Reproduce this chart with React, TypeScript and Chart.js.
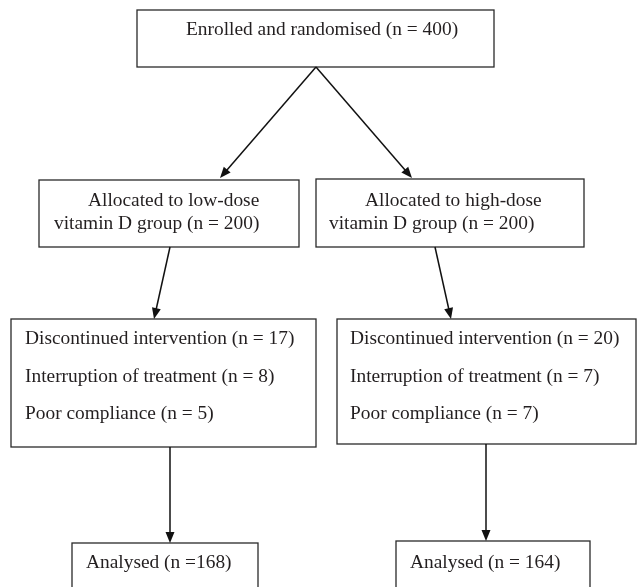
import React, { useEffect, useRef } from "react";
import { Chart, registerables } from "chart.js";

Chart.register(...registerables);

// ---- Content (text of each box) ----
const enrolledLines = ["Enrolled and randomised (n = 400)"];
const lowAllocLines = ["Allocated to low-dose", "vitamin D group (n = 200)"];
const highAllocLines = ["Allocated to high-dose", "vitamin D group (n = 200)"];
const lowDiscLines = [
  "Discontinued intervention (n = 17)",
  "Interruption of treatment (n = 8)",
  "Poor compliance (n = 5)",
];
const highDiscLines = [
  "Discontinued intervention (n = 20)",
  "Interruption of treatment (n = 7)",
  "Poor compliance (n = 7)",
];
const lowAnalysedLines = ["Analysed (n =168)"];
const highAnalysedLines = ["Analysed (n = 164)"];

// ---- Layout (scale units: x 0..637, y 0..587 top-down) ----
const W = 637;
const H = 587;
type Box = { x0: number; x1: number; y0: number; y1: number; lines: string[]; tx: number[]; ty: number[] };
const boxes: Box[] = [
  { x0: 137, x1: 494, y0: 10, y1: 67, lines: enrolledLines, tx: [186], ty: [35] },
  { x0: 39, x1: 299, y0: 180, y1: 247, lines: lowAllocLines, tx: [88, 54], ty: [206, 229] },
  { x0: 316, x1: 584, y0: 179, y1: 247, lines: highAllocLines, tx: [365, 329], ty: [206, 229] },
  { x0: 11, x1: 316, y0: 319, y1: 447, lines: lowDiscLines, tx: [25, 25, 25], ty: [344, 382, 419] },
  { x0: 337, x1: 636, y0: 319, y1: 444, lines: highDiscLines, tx: [350, 350, 350], ty: [344, 382, 419] },
  { x0: 72, x1: 258, y0: 543, y1: 610, lines: lowAnalysedLines, tx: [86], ty: [568] },
  { x0: 396, x1: 590, y0: 541, y1: 610, lines: highAnalysedLines, tx: [410], ty: [568] },
];
const arrows: [number, number, number, number][] = [
  [316, 67, 220, 178],
  [316, 67, 412, 178],
  [170, 247, 154, 319],
  [435, 247, 451, 319],
  [170, 447, 170, 543],
  [486, 444, 486, 541],
];

const INK = "#231f20";
const FONT = '19.4px "Liberation Serif", "Times New Roman", serif';

const flowPlugin = {
  id: "flow",
  afterDatasetsDraw(chart: any) {
    const { ctx } = chart;
    const sx = chart.scales.x;
    const sy = chart.scales.y;
    const px = (v: number) => sx.getPixelForValue(v);
    const py = (v: number) => sy.getPixelForValue(v);
    ctx.save();
    // boxes
    ctx.strokeStyle = "#2a2a2a";
    ctx.lineWidth = 1.3;
    ctx.fillStyle = INK;
    ctx.font = FONT;
    ctx.textBaseline = "alphabetic";
    ctx.textAlign = "left";
    for (const b of boxes) {
      const x0 = px(b.x0), x1 = px(b.x1), y0 = py(b.y0), y1 = py(b.y1);
      ctx.strokeRect(x0, y0, x1 - x0, y1 - y0);
      b.lines.forEach((t, i) => ctx.fillText(t, px(b.tx[i]), py(b.ty[i])));
    }
    // arrows
    ctx.strokeStyle = "#111";
    ctx.fillStyle = "#111";
    ctx.lineWidth = 1.5;
    for (const [ax, ay, bx, by] of arrows) {
      const x0 = px(ax), y0 = py(ay), x1 = px(bx), y1 = py(by);
      const ang = Math.atan2(y1 - y0, x1 - x0);
      const L = 11, hw = 4.5;
      const lx = x1 - Math.cos(ang) * L, ly = y1 - Math.sin(ang) * L;
      ctx.beginPath();
      ctx.moveTo(x0, y0);
      ctx.lineTo(lx + Math.cos(ang) * 2, ly + Math.sin(ang) * 2);
      ctx.stroke();
      ctx.beginPath();
      ctx.moveTo(x1, y1);
      ctx.lineTo(lx - Math.sin(ang) * hw, ly + Math.cos(ang) * hw);
      ctx.lineTo(lx + Math.sin(ang) * hw, ly - Math.cos(ang) * hw);
      ctx.closePath();
      ctx.fill();
    }
    ctx.restore();
  },
};

export default function App() {
  const ref = useRef<HTMLCanvasElement | null>(null);
  useEffect(() => {
    if (!ref.current) return;
    const chart = new Chart(ref.current, {
      type: "scatter",
      data: {
        datasets: [
          {
            data: boxes.map((b) => ({ x: (b.x0 + b.x1) / 2, y: (b.y0 + b.y1) / 2 })),
            pointRadius: 0,
            showLine: false,
          },
        ],
      },
      options: {
        responsive: false,
        animation: false,
        events: [],
        layout: { padding: 0 },
        scales: {
          x: { type: "linear", min: 0, max: W, display: false },
          y: { type: "linear", min: 0, max: H, reverse: true, display: false },
        },
        plugins: { legend: { display: false }, tooltip: { enabled: false } },
      },
      plugins: [flowPlugin],
    });
    return () => chart.destroy();
  }, []);
  return (
    <div style={{ position: "fixed", left: 0, top: 0, width: W, height: H, background: "#fff" }}>
      <canvas ref={ref} width={W} height={H} style={{ width: W, height: H, display: "block" }} />
    </div>
  );
}
